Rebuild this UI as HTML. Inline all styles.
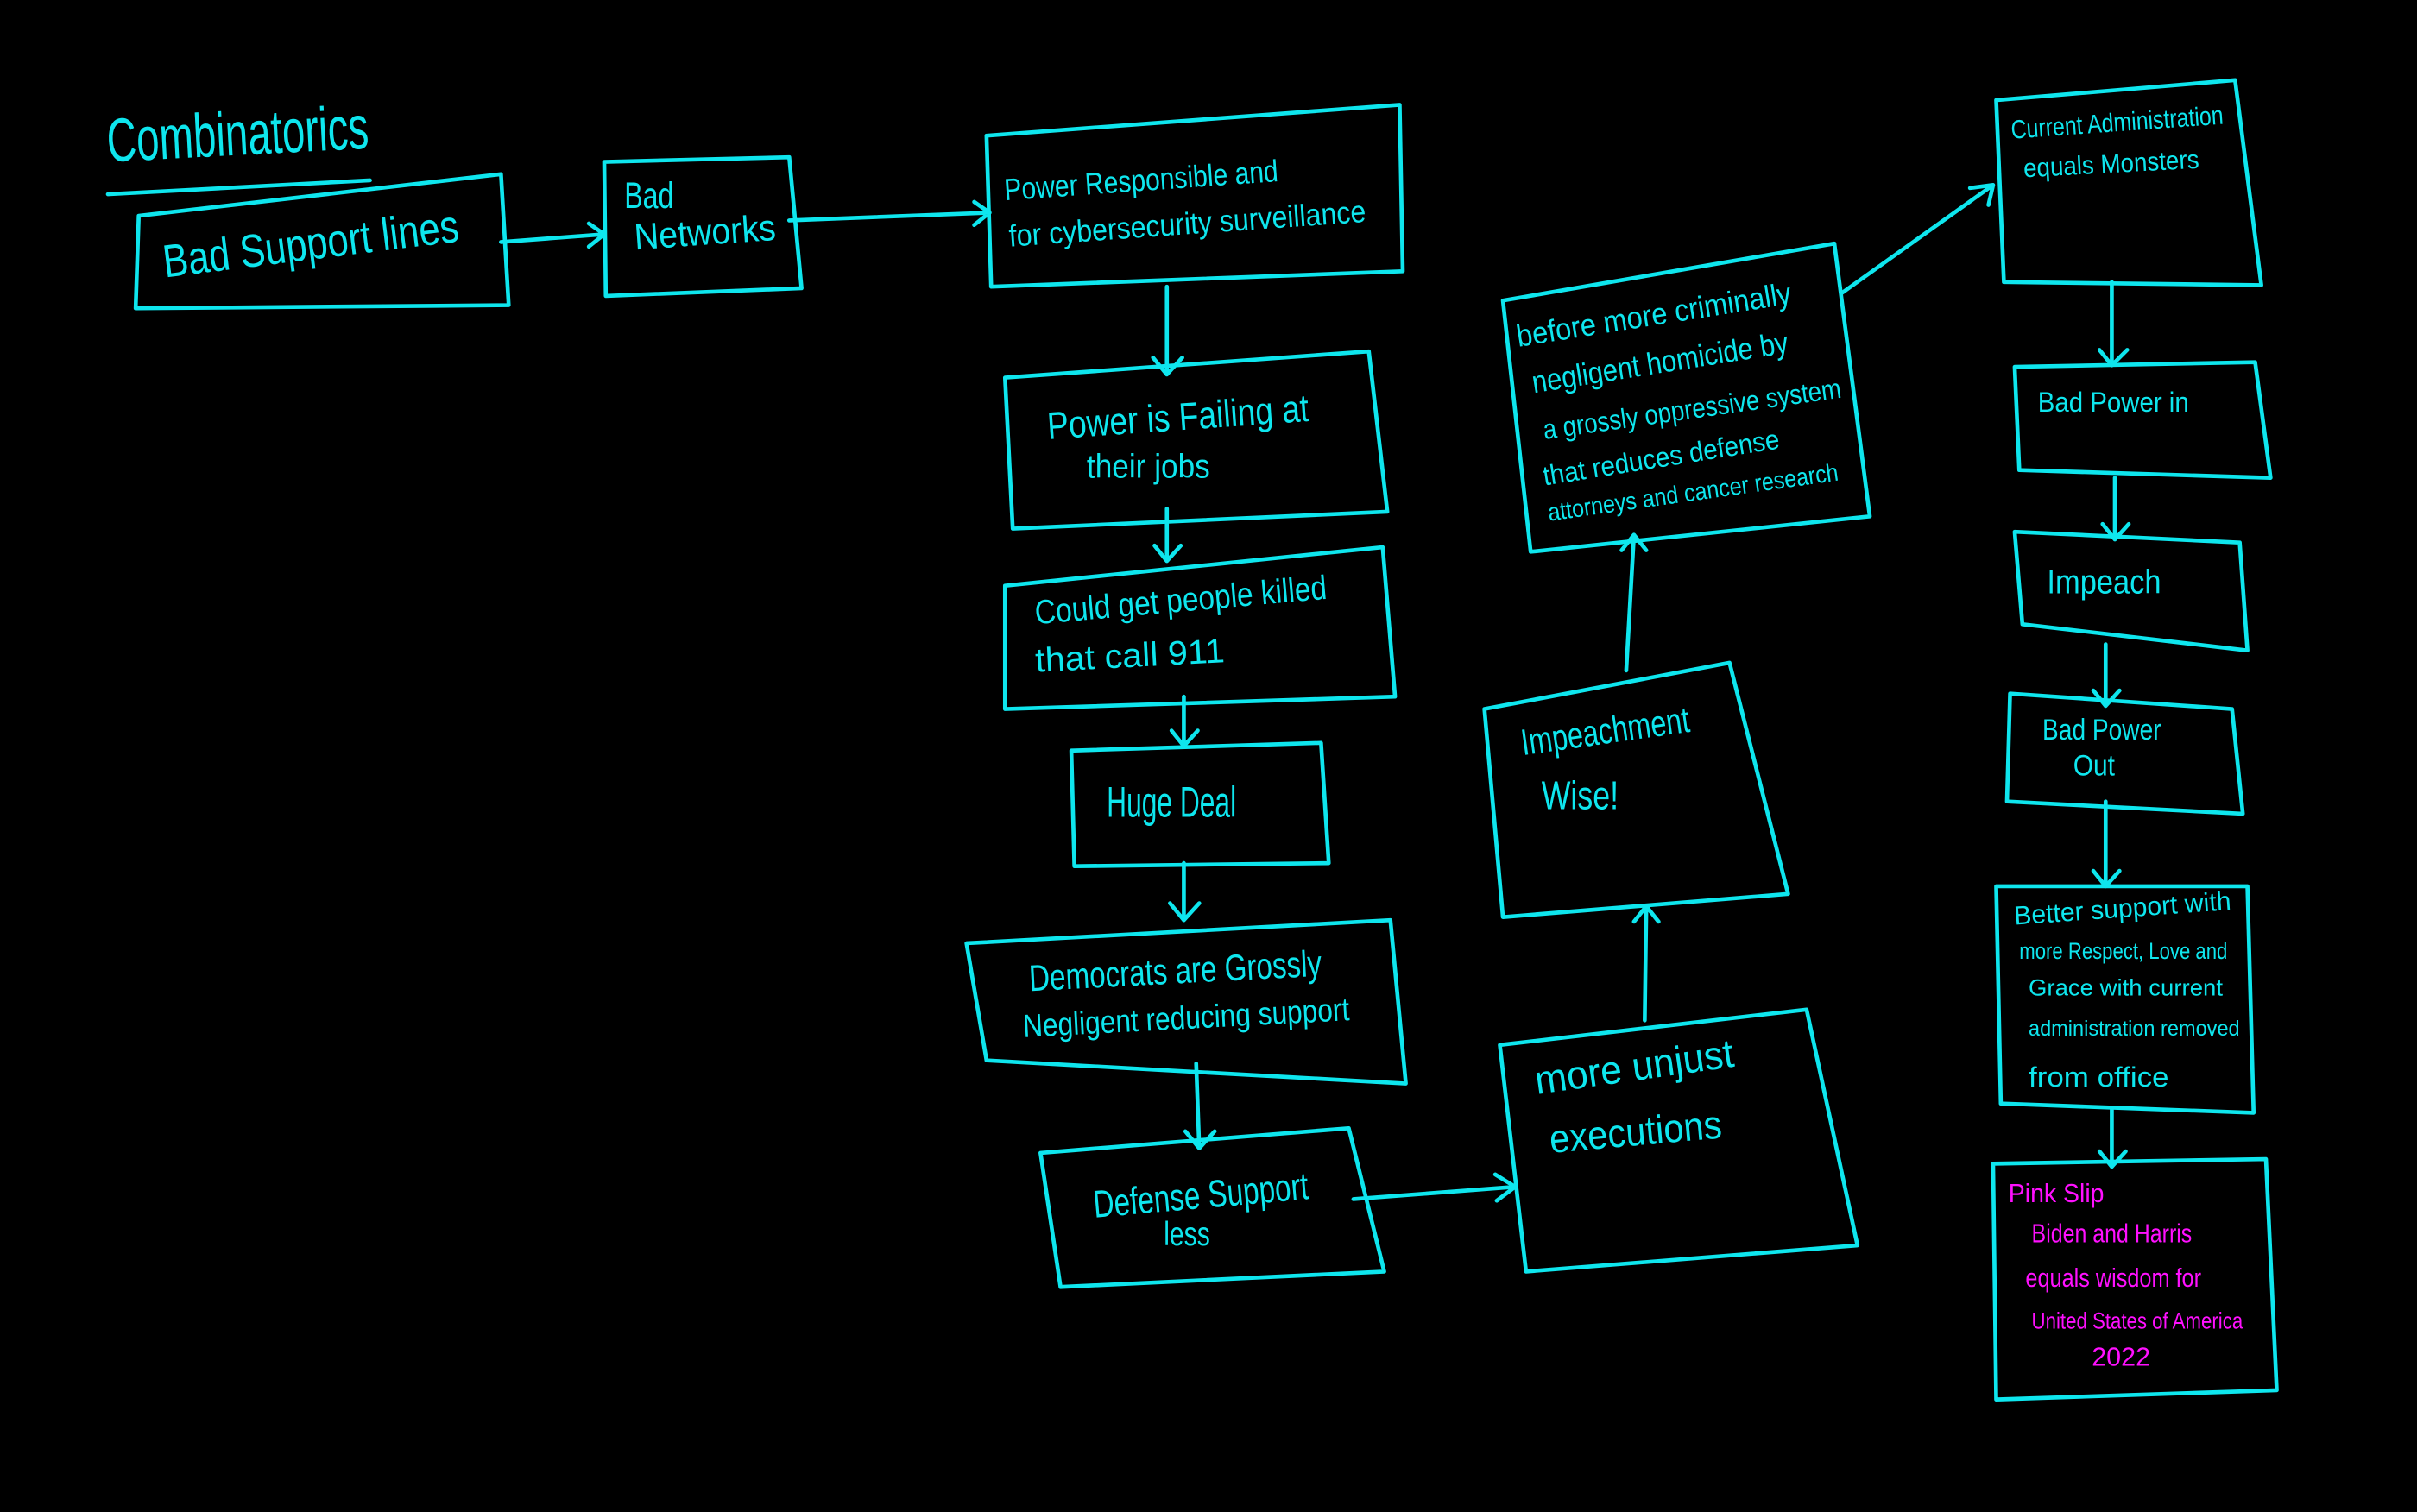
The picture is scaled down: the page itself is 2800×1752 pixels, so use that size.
<!DOCTYPE html>
<html><head><meta charset="utf-8"><style>
html,body{margin:0;padding:0;background:#000;width:2800px;height:1752px;overflow:hidden}
svg{display:block}
text{font-family:"Liberation Sans",sans-serif;fill:#0ee6ee}
.m{fill:#ff10ff}
</style></head><body>
<svg width="2800" height="1752" viewBox="0 0 1568 981" preserveAspectRatio="none">
<g fill="none" stroke="#0ee6ee" stroke-width="2.6" stroke-linejoin="round" stroke-linecap="round">
<path d="M70 126 L240 117"/>
<polygon points="90,140 325,113 330,198 88,200"/>
<polygon points="392,105 512,102 520,187 393,192"/>
<polygon points="640,88 908,68 910,176 643,186"/>
<polygon points="652,245 888,228 900,332 657,343"/>
<polygon points="652,380 897,355 905,452 652,460"/>
<polygon points="695,487 857,482 862,560 697,562"/>
<polygon points="627,612 902,597 912,703 640,688"/>
<polygon points="675,748 875,732 898,825 688,835"/>
<polygon points="973,678 1172,655 1205,808 990,825"/>
<polygon points="963,460 1122,430 1160,580 975,595"/>
<polygon points="975,195 1190,158 1213,335 993,358"/>
<polygon points="1295,65 1450,52 1467,185 1300,183"/>
<polygon points="1307,238 1463,235 1473,310 1310,305"/>
<polygon points="1307,345 1453,352 1458,422 1312,405"/>
<polygon points="1304,450 1448,460 1455,528 1302,520"/>
<polygon points="1295,575 1458,575 1462,722 1298,716"/>
<polygon points="1293,755 1470,752 1477,902 1295,908"/>
<path d="M325 157 L392 152 M382 145 L392 152 L382 160"/>
<path d="M512 143 L642 138 M632 131 L642 138 L632 146"/>
<path d="M757 186 L757 243 M748 232 L757 243 L767 232"/>
<path d="M757 330 L757 364 M749 354 L757 364 L766 354"/>
<path d="M768 452 L768 484 M760 474 L768 484 L777 474"/>
<path d="M768 560 L768 597 M759 586 L768 597 L778 586"/>
<path d="M776 690 L778 745 M769 734 L778 745 L788 734"/>
<path d="M878 778 L983 770 M970 762 L983 770 L971 779"/>
<path d="M1067 662 L1068 588 M1060 598 L1068 588 L1076 598"/>
<path d="M1055 435 L1060 347 M1052 357 L1060 347 L1068 357"/>
<path d="M1195 190 L1293 120 M1278 122 L1293 120 L1290 133"/>
<path d="M1370 183 L1370 237 M1362 227 L1370 237 L1380 227"/>
<path d="M1372 310 L1372 350 M1364 340 L1372 350 L1381 340"/>
<path d="M1366 418 L1366 458 M1358 448 L1366 458 L1375 448"/>
<path d="M1366 520 L1366 575 M1358 565 L1366 575 L1375 565"/>
<path d="M1370 720 L1370 757 M1362 747 L1370 757 L1379 747"/>
</g>
<g lengthAdjust="spacingAndGlyphs">
<text x="70" y="105" font-size="40" textLength="170" lengthAdjust="spacingAndGlyphs" transform="rotate(-3 70 105)">Combinatorics</text>
<text x="107" y="180" font-size="30" textLength="193" lengthAdjust="spacingAndGlyphs" transform="rotate(-7 107 180)">Bad Support lines</text>
<text x="405" y="135" font-size="24" textLength="32" lengthAdjust="spacingAndGlyphs">Bad</text>
<text x="412" y="162" font-size="24" textLength="92" lengthAdjust="spacingAndGlyphs" transform="rotate(-4 412 162)">Networks</text>
<text x="652" y="130" font-size="20" textLength="178" lengthAdjust="spacingAndGlyphs" transform="rotate(-4 652 130)">Power Responsible   and</text>
<text x="655" y="160" font-size="20" textLength="232" lengthAdjust="spacingAndGlyphs" transform="rotate(-4 655 160)">for cybersecurity   surveillance</text>
<text x="680" y="285" font-size="25" textLength="170" lengthAdjust="spacingAndGlyphs" transform="rotate(-4 680 285)">Power is Failing at</text>
<text x="705" y="310" font-size="22" textLength="80" lengthAdjust="spacingAndGlyphs">their jobs</text>
<text x="672" y="405" font-size="22" textLength="190" lengthAdjust="spacingAndGlyphs" transform="rotate(-5 672 405)">Could get people killed</text>
<text x="672" y="436" font-size="22" textLength="123" lengthAdjust="spacingAndGlyphs" transform="rotate(-3 672 436)">that call 911</text>
<text x="718" y="530" font-size="28" textLength="84" lengthAdjust="spacingAndGlyphs">Huge Deal</text>
<text x="668" y="643" font-size="24" textLength="190" lengthAdjust="spacingAndGlyphs" transform="rotate(-3 668 643)">Democrats are Grossly</text>
<text x="664" y="673" font-size="21" textLength="212" lengthAdjust="spacingAndGlyphs" transform="rotate(-3 664 673)">Negligent reducing support</text>
<text x="710" y="790" font-size="25" textLength="140" lengthAdjust="spacingAndGlyphs" transform="rotate(-5 710 790)">Defense Support</text>
<text x="755" y="808" font-size="22" textLength="30" lengthAdjust="spacingAndGlyphs">less</text>
<text x="997" y="710" font-size="26" textLength="130" lengthAdjust="spacingAndGlyphs" transform="rotate(-8 997 710)">more unjust</text>
<text x="1006" y="748" font-size="26" textLength="112" lengthAdjust="spacingAndGlyphs" transform="rotate(-5 1006 748)">executions</text>
<text x="988" y="490" font-size="24" textLength="110" lengthAdjust="spacingAndGlyphs" transform="rotate(-8 988 490)">Impeachment</text>
<text x="1000" y="525" font-size="26" textLength="50" lengthAdjust="spacingAndGlyphs">Wise!</text>
<text x="985" y="225" font-size="20" textLength="180" lengthAdjust="spacingAndGlyphs" transform="rotate(-9 985 225)">before more criminally</text>
<text x="995" y="255" font-size="20" textLength="168" lengthAdjust="spacingAndGlyphs" transform="rotate(-9 995 255)">negligent homicide by</text>
<text x="1002" y="285" font-size="18" textLength="195" lengthAdjust="spacingAndGlyphs" transform="rotate(-8 1002 285)">a grossly oppressive system</text>
<text x="1002" y="315" font-size="18" textLength="155" lengthAdjust="spacingAndGlyphs" transform="rotate(-9 1002 315)">that reduces defense</text>
<text x="1005" y="338" font-size="16" textLength="190" lengthAdjust="spacingAndGlyphs" transform="rotate(-8 1005 338)">attorneys and cancer research</text>
<text x="1305" y="90" font-size="17" textLength="138" lengthAdjust="spacingAndGlyphs" transform="rotate(-4 1305 90)">Current Administration</text>
<text x="1313" y="115" font-size="17" textLength="114" lengthAdjust="spacingAndGlyphs" transform="rotate(-3 1313 115)">equals Monsters</text>
<text x="1322" y="267" font-size="18" textLength="98" lengthAdjust="spacingAndGlyphs">Bad Power in</text>
<text x="1328" y="385" font-size="22" textLength="74" lengthAdjust="spacingAndGlyphs">Impeach</text>
<text x="1325" y="480" font-size="19" textLength="77" lengthAdjust="spacingAndGlyphs">Bad Power</text>
<text x="1345" y="503" font-size="19" textLength="27" lengthAdjust="spacingAndGlyphs">Out</text>
<text x="1307" y="600" font-size="17" textLength="141" lengthAdjust="spacingAndGlyphs" transform="rotate(-4 1307 600)">Better support with</text>
<text x="1310" y="622" font-size="15" textLength="135" lengthAdjust="spacingAndGlyphs">more Respect, Love and</text>
<text x="1316" y="646" font-size="15" textLength="126" lengthAdjust="spacingAndGlyphs">Grace with current</text>
<text x="1316" y="672" font-size="14" textLength="137" lengthAdjust="spacingAndGlyphs">administration removed</text>
<text x="1316" y="705" font-size="18" textLength="91" lengthAdjust="spacingAndGlyphs">from office</text>
<text class="m" x="1303" y="780" font-size="17" textLength="62" lengthAdjust="spacingAndGlyphs">Pink Slip</text>
<text class="m" x="1318" y="806" font-size="17" textLength="104" lengthAdjust="spacingAndGlyphs">Biden and Harris</text>
<text class="m" x="1314" y="835" font-size="17" textLength="114" lengthAdjust="spacingAndGlyphs">equals wisdom for</text>
<text class="m" x="1318" y="862" font-size="15" textLength="137" lengthAdjust="spacingAndGlyphs">United States of America</text>
<text class="m" x="1357" y="886" font-size="17" textLength="38" lengthAdjust="spacingAndGlyphs">2022</text>
</g>
</svg>
</body></html>
